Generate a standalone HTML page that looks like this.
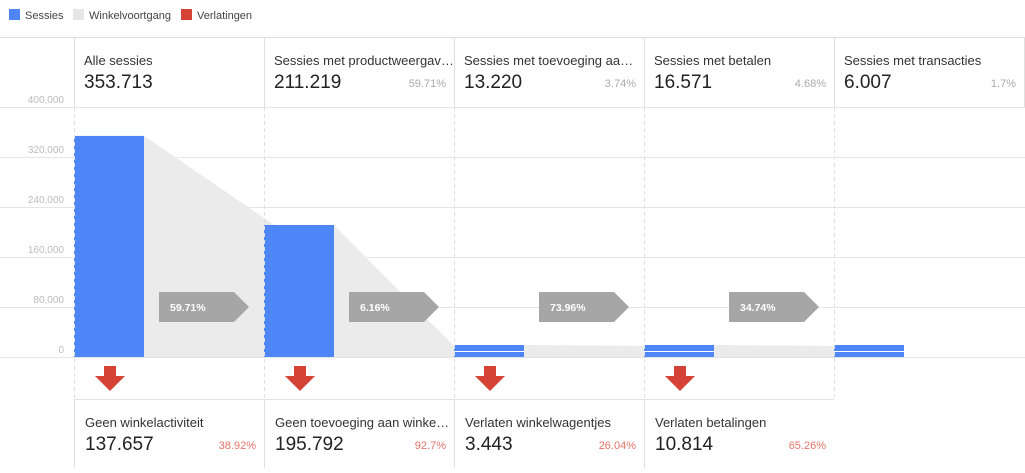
<!DOCTYPE html>
<html><head><meta charset="utf-8"><style>
body{margin:0;background:#fff;font-family:"Liberation Sans",Arial,sans-serif;}
svg text{font-family:"Liberation Sans",Arial,sans-serif;}
</style></head><body>
<svg id="c" width="1025" height="468" xmlns="http://www.w3.org/2000/svg">
<g>
 <rect x="9" y="9" width="11" height="11" fill="#4f86f7"/>
 <text x="25" y="19" font-size="11" fill="#444">Sessies</text>
 <rect x="73" y="9" width="11" height="11" fill="#e6e6e6"/>
 <text x="89" y="19" font-size="11" fill="#444">Winkelvoortgang</text>
 <rect x="181" y="9" width="11" height="11" fill="#d44336"/>
 <text x="197" y="19" font-size="11" fill="#444">Verlatingen</text>
</g>
<g id="grid"></g><g id="flow"></g><g id="bars"></g><g id="cols"></g>
</svg>
<script>
const stepNames=["Alle sessies","Sessies met productweergav…","Sessies met toevoeging aa…","Sessies met betalen","Sessies met transacties"];
const sessions=[353713,211219,13220,16571,6007];
const stepPct=["","59.71%","3.74%","4.68%","1.7%"];
const progressPct=["59.71%","6.16%","73.96%","34.74%"];
const dropNames=["Geen winkelactiviteit","Geen toevoeging aan winke…","Verlaten winkelwagentjes","Verlaten betalingen"];
const dropValues=[137657,195792,3443,10814];
const dropPct=["38.92%","92.7%","26.04%","65.26%"];
const yTicks=[0,80000,160000,240000,320000,400000];

const NS="http://www.w3.org/2000/svg";
function mk(p,t,a,txt){const e=document.createElementNS(NS,t);for(const k in a)e.setAttribute(k,a[k]);if(txt!==undefined)e.textContent=txt;p.appendChild(e);return e;}
const fmt=v=>v.toLocaleString('de-DE');
const fmtT=v=>v.toLocaleString('en-US');
const y0=357,ymax=107,vmax=400000;
const y=v=>y0-(v/vmax)*(y0-ymax);
const colX=i=>74+i*190;
const grid=document.getElementById('grid'),flow=document.getElementById('flow'),bars=document.getElementById('bars'),cols=document.getElementById('cols');
const svg=document.getElementById('c');
// header/footer lines
let e=mk(grid,'line',{x1:0,x2:1025,y1:37.5,y2:37.5,stroke:'#e0e0e0'});


e=mk(grid,'line',{x1:74,x2:834,y1:399.5,y2:399.5,stroke:'#e0e0e0'});


yTicks.forEach(t=>{
 const l=mk(grid,'line',{x1:0,x2:1025,y1:Math.round(y(t))+0.5,y2:Math.round(y(t))+0.5,stroke:'#e5e5e5'});
 
 
 const tx=mk(grid,'text',{x:64,y:y(t)-4,'font-size':10,fill:'#bbb','text-anchor':'end'},fmtT(t));
 
 
});
const bw=70,minH=12;
const barTop=i=>Math.min(y(sessions[i]),y0-minH);
// flow polygons
for(let i=0;i<sessions.length-1;i++){
 const x1=colX(i)+bw,xe=colX(i+1);
 const yEnd=i==0?barTop(2)+3:barTop(i+1)+1;
 const xEnd=i==0?colX(2):xe;
 const p=mk(flow,'polygon',{points:`${x1},${barTop(i)} ${xEnd},${yEnd} ${xEnd},${y0} ${x1},${y0}`,fill:'#ebebeb'});
 
 
}
// columns
for(let i=0;i<5;i++){
 const x=colX(i);
 const vl=mk(cols,'line',{x1:x+0.5,x2:x+0.5,y1:37,y2:107,stroke:'#e0e0e0'});
 
 
 const dl=mk(cols,'line',{x1:x+0.5,x2:x+0.5,y1:107,y2:399,stroke:'#e0e0e0','stroke-dasharray':'4,3'});
 
 
 if(i<4){const fl=mk(cols,'line',{x1:x+0.5,x2:x+0.5,y1:399,y2:468,stroke:'#e0e0e0'});
 
 }
 const t=mk(cols,'text',{x:x+10,y:65,'font-size':13,fill:'#333'},stepNames[i]);
 
 
 const v=mk(cols,'text',{x:x+10,y:88,'font-size':19,fill:'#222'},fmt(sessions[i]));
 
 
 if(stepPct[i]){const pc=mk(cols,'text',{x:x+182,y:87,'font-size':11,fill:'#aaa','text-anchor':'end'},stepPct[i]);
 
 }
 // bar
 const top=barTop(i);
 const b=mk(bars,'rect',{x:x,y:top,width:bw,height:y0-top,fill:'#4f86f7'});
 
 
 if(y0-y(sessions[i])<minH){const w=mk(bars,'rect',{x:x,y:Math.round((top+y0)/2),width:bw,height:1,fill:'#fff'});
 
 }
}
const r=mk(cols,'line',{x1:1024.5,x2:1024.5,y1:37,y2:107,stroke:'#e0e0e0'});


// progress tags, drop-offs
for(let i=0;i<4;i++){
 const x=colX(i)+85;
 const g=mk(bars,'polygon',{points:`${x},292 ${x+75},292 ${x+90},307 ${x+75},322 ${x},322`,fill:'#a6a6a6'});
 
 
 const t=mk(bars,'text',{x:x+11,y:311,'font-size':10.5,'font-weight':'bold',fill:'#fff'},progressPct[i]);
 
 
 const ax=colX(i)+36;
 const a=mk(bars,'polygon',{points:`${ax-6},366 ${ax+6},366 ${ax+6},376 ${ax+15},376 ${ax},391 ${ax-15},376 ${ax-6},376`,fill:'#d44336'});
 
 
 const dn=mk(cols,'text',{x:colX(i)+11,y:427,'font-size':13,fill:'#333'},dropNames[i]);
 
 
 const dv=mk(cols,'text',{x:colX(i)+11,y:450,'font-size':19,fill:'#222'},fmt(dropValues[i]));
 
 
 const dp=mk(cols,'text',{x:colX(i)+182,y:449,'font-size':11,fill:'#e57368','text-anchor':'end'},dropPct[i]);
 
 
}
</script>
</body></html>
